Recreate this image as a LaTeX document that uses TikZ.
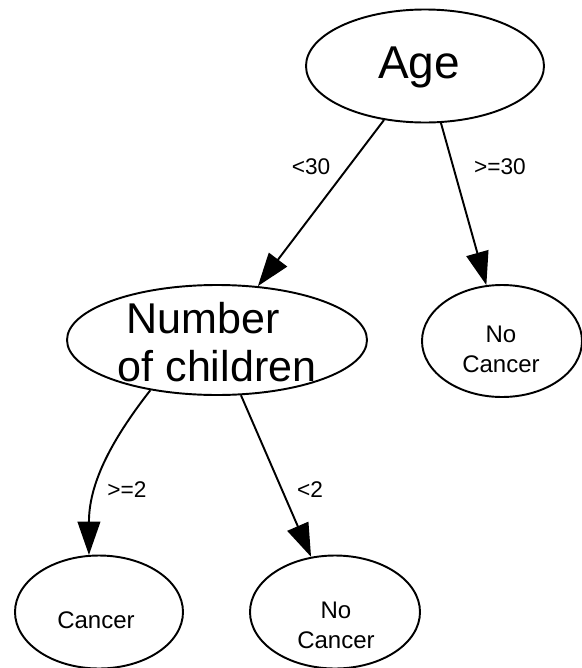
\documentclass[tikz,border=0pt]{standalone}
\usepackage{fontspec}
\setmainfont{Liberation Sans}
\usetikzlibrary{shapes.geometric,arrows.meta}
\begin{document}
\begin{tikzpicture}[x=0.75pt,y=-0.75pt,
  oval/.style={draw=black,line width=1.45pt,ellipse,inner sep=0pt},
  edge/.style={draw=black,line width=1.45pt,-{Triangle[length=25pt,width=17pt]}},
  cond/.style={font=\fontsize{17}{20}\selectfont,inner sep=0pt},
  leaf/.style={font=\fontsize{18}{22.5}\selectfont,align=center,inner sep=0pt}]
\useasboundingbox (0,0) rectangle (582,668);

% decision and leaf ellipses
\node[oval,minimum width=178.5pt,minimum height=84.75pt] (age) at (425,66) {};
\node[oval,minimum width=225pt,minimum height=82.5pt] (num) at (217,340) {};
\node[oval,minimum width=120pt,minimum height=84pt] (ncr) at (502,341) {};
\node[oval,minimum width=126pt,minimum height=84.75pt] (can) at (99,612) {};
\node[oval,minimum width=127.5pt,minimum height=84.75pt] (ncb) at (335,612) {};

% texts inside the ellipses
\node[font=\fontsize{34.5}{40}\selectfont,inner sep=0pt] (agetxt) at (419,67.5) {Age};
\node[font=\fontsize{32.3}{36}\selectfont,align=center,inner sep=0pt] (numtxt) at (217,342) {Number\hspace*{21pt}\\of children};
\node[leaf] (ncrtxt) at (501,349) {No\\Cancer};
\node[leaf] (cantxt) at (96,620.5) {Cancer};
\node[leaf] (ncbtxt) at (336,625) {No\\Cancer};

% branches
\draw[edge] (age) -- (num);
\draw[edge] (age) -- (ncr);
\draw[edge] (num.-143) to[out=-128,in=90] (can.100);
\draw[edge] (num) -- (ncb);

% branch conditions
\node[cond] (c1) at (311,167) {<30};
\node[cond] (c2) at (500,167) {>=30};
\node[cond] (c3) at (127,490) {>=2};
\node[cond] (c4) at (310,490) {<2};
\end{tikzpicture}
\end{document}
